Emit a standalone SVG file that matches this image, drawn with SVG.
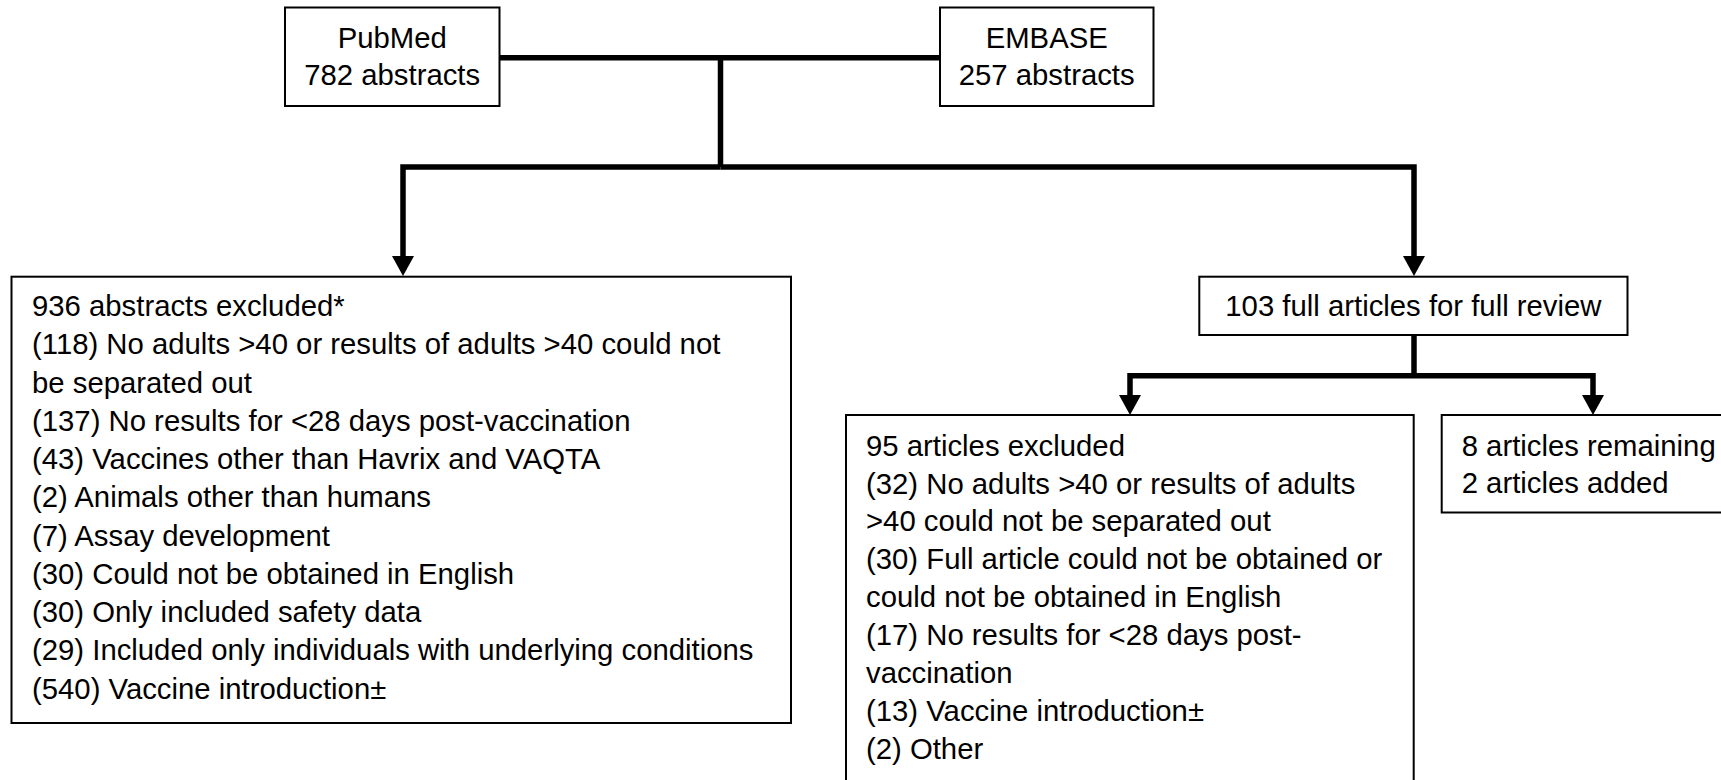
<svg xmlns="http://www.w3.org/2000/svg" width="1721" height="780" viewBox="0 0 1721 780">
  <style>
    .box { fill: #ffffff; stroke: #000000; stroke-width: 2; }
    .t { font-family: "Liberation Sans", Arial, sans-serif; font-size: 29.3px; fill: #000000; }
    .c { text-anchor: middle; }
    .conn { fill: none; stroke: #000000; stroke-width: 5.5; stroke-linejoin: miter; stroke-linecap: butt; }
  </style>
  <defs>
    <marker id="arrow" markerUnits="userSpaceOnUse" markerWidth="20" markerHeight="22" refX="1" refY="11" orient="auto">
      <path d="M0,0 L20,11 L0,22 z" fill="#000000"/>
    </marker>
  </defs>
  <rect width="1721" height="780" fill="#ffffff"/>

  <g id="connectors">
    <path class="conn" d="M499,57.8 H940"/>
    <path class="conn" d="M720.5,57.8 V167"/>
    <path class="conn" d="M720.5,167 H403 V257" marker-end="url(#arrow)"/>
    <path class="conn" d="M720.5,167 H1414 V257" marker-end="url(#arrow)"/>
    <path class="conn" d="M1414,335 V375.8"/>
    <path class="conn" d="M1414,375.8 H1130 V396" marker-end="url(#arrow)"/>
    <path class="conn" d="M1414,375.8 H1593 V396" marker-end="url(#arrow)"/>
  </g>

  <g id="pubmed">
    <rect class="box" x="285" y="7.5" width="214.5" height="98.5"/>
    <text class="t c" x="392.2" y="48">PubMed</text>
    <text class="t c" x="392.2" y="85">782 abstracts</text>
  </g>

  <g id="embase">
    <rect class="box" x="940" y="7.5" width="213.5" height="98.5"/>
    <text class="t c" x="1046.7" y="48">EMBASE</text>
    <text class="t c" x="1046.7" y="85">257 abstracts</text>
  </g>

  <g id="abstracts-excluded">
    <rect class="box" x="11.5" y="276.7" width="779.5" height="446.3"/>
    <text class="t" x="32" y="316">936 abstracts excluded*</text>
    <text class="t" x="32" y="354.3">(118) No adults &gt;40 or results of adults &gt;40 could not</text>
    <text class="t" x="32" y="392.5">be separated out</text>
    <text class="t" x="32" y="430.8">(137) No results for &lt;28 days post-vaccination</text>
    <text class="t" x="32" y="469.1">(43) Vaccines other than Havrix and VAQTA</text>
    <text class="t" x="32" y="507.3">(2) Animals other than humans</text>
    <text class="t" x="32" y="545.6">(7) Assay development</text>
    <text class="t" x="32" y="583.9">(30) Could not be obtained in English</text>
    <text class="t" x="32" y="622.2">(30) Only included safety data</text>
    <text class="t" x="32" y="660.4">(29) Included only individuals with underlying conditions</text>
    <text class="t" x="32" y="698.7">(540) Vaccine introduction±</text>
  </g>

  <g id="full-review">
    <rect class="box" x="1199.3" y="276.7" width="428.2" height="58.3"/>
    <text class="t c" x="1413.4" y="315.5">103 full articles for full review</text>
  </g>

  <g id="articles-excluded">
    <rect class="box" x="846" y="415" width="567.7" height="380"/>
    <text class="t" x="866" y="455.5">95 articles excluded</text>
    <text class="t" x="866" y="493.5">(32) No adults &gt;40 or results of adults</text>
    <text class="t" x="866" y="531.4">&gt;40 could not be separated out</text>
    <text class="t" x="866" y="569.4">(30) Full article could not be obtained or</text>
    <text class="t" x="866" y="607.3">could not be obtained in English</text>
    <text class="t" x="866" y="645.3">(17) No results for &lt;28 days post-</text>
    <text class="t" x="866" y="683.2">vaccination</text>
    <text class="t" x="866" y="721.2">(13) Vaccine introduction±</text>
    <text class="t" x="866" y="759.1">(2) Other</text>
  </g>

  <g id="articles-remaining">
    <rect class="box" x="1441.7" y="415" width="300" height="97.5"/>
    <text class="t" x="1461.7" y="456">8 articles remaining</text>
    <text class="t" x="1461.7" y="492.7">2 articles added</text>
  </g>
</svg>
